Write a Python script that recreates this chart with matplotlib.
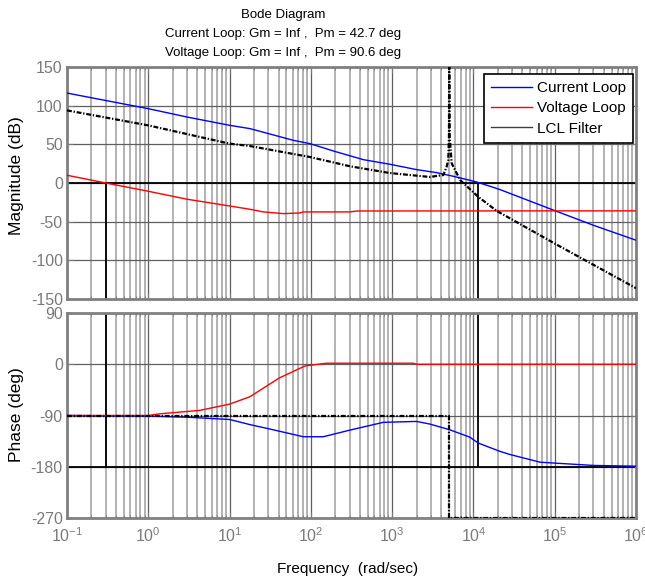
import matplotlib
matplotlib.use("Agg")
import matplotlib.pyplot as plt
from matplotlib import font_manager as fm
from matplotlib.lines import Line2D
from matplotlib.ticker import FixedLocator, NullFormatter, LogFormatterSciNotation

# ---------------- data ----------------
series_labels = ["Current Loop", "Voltage Loop", "LCL Filter"]
title_lines = ["Bode Diagram",
               "Current Loop: Gm = Inf ,  Pm = 42.7 deg",
               "Voltage Loop: Gm = Inf ,  Pm = 90.6 deg"]

cl_mag_f = [0.1, 1, 3, 10, 17.8, 60.8, 97.5, 189, 442, 940, 2000, 3520, 5650, 11000, 21200, 1e5, 3e5, 1e6]
cl_mag = [116.3, 96.1, 85.3, 74.6, 70.3, 55.2, 50.9, 41.4, 30.2, 24.2, 17.3, 13.4, 8.7, 1.3, -8.5, -35.7, -54.7, -74]

vl_mag_f = [0.1, 0.3, 1, 3, 10, 17.8, 26, 46, 74, 80, 303, 366, 1e6]
vl_mag = [10, 0, -10.7, -21, -29.7, -34, -37.4, -39.6, -38.7, -37.4, -37.4, -36.2, -36]

lcl_mag_f = [0.1, 1, 10, 17.8, 97.5, 303, 940, 2900, 4260, 4670, 4900, 5000, 5040, 5100, 5400, 6900, 11500, 19300, 1e5, 1e6]
lcl_mag = [93.9, 74.5, 50.9, 47.8, 33.6, 21.6, 12.9, 7.8, 10.3, 20.7, 29, 60, 175, 60, 25.5, 3.5, -18, -36, -78.3, -136]

cl_ph_f = [0.1, 1, 3, 10, 17.8, 31.4, 80.7, 142, 303, 778, 2000, 2900, 5100, 9000, 11500, 21200, 28000, 66000, 1e5, 3e5, 1e6]
cl_ph = [-90, -91, -93, -97, -106, -113.8, -127.3, -127.3, -115.6, -102, -100.4, -105, -115, -128, -138.5, -153, -158.4, -172, -173.6, -177.7, -179]

vl_ph_f = [0.1, 1, 1.39, 4.3, 10, 17.8, 41, 84.5, 155, 1800, 2000, 1e6]
vl_ph = [-90, -90, -87, -81, -70, -57, -24, -3, 1.8, 1.8, 0, 0]

lcl_ph_f = [0.1, 5040, 5040, 1e6]
lcl_ph = [-90, -90, -270, -270]

crossover_f = [0.3, 1.15e4]      # gain crossover frequencies (voltage, current)
freq_ticks = [1e-1, 1e0, 1e1, 1e2, 1e3, 1e4, 1e5, 1e6]
mag_ticks = [-150, -100, -50, 0, 50, 100, 150]
ph_ticks = [-270, -180, -90, 0, 90]

# ---------------- fonts ----------------
names = {f.name for f in fm.fontManager.ttflist}
base_font = "Liberation Sans" if "Liberation Sans" in names else "DejaVu Sans"
narrow = "Liberation Sans Narrow" in names
title_font = "Liberation Sans Narrow" if narrow else base_font
title_size = 11 if narrow else 9.5

plt.rcParams["font.family"] = [base_font, "DejaVu Sans"]
plt.rcParams["mathtext.fontset"] = "custom"
plt.rcParams["mathtext.rm"] = base_font
plt.rcParams["mathtext.it"] = base_font + ":italic"
plt.rcParams["mathtext.bf"] = base_font + ":bold"
plt.rcParams["axes.unicode_minus"] = False

W, H = 645, 581
fig = plt.figure(figsize=(W / 100, H / 100), dpi=100)

def box(l, t, r, b):
    return [l / W, 1 - b / H, (r - l) / W, (b - t) / H]

ax1 = fig.add_axes(box(67, 67, 636, 299))
ax2 = fig.add_axes(box(67, 313, 636, 518), sharex=ax1)

blue = "#0000ff"
red = "#ff0000"
spine_c = "#808080"
tick_c = "#7a7a7a"
lcl_style = (0, (2.2, 0.8, 0.6, 0.8))

minor_ticks = [m * d for d in freq_ticks[:-1] for m in range(2, 10)]

for ax in (ax1, ax2):
    ax.set_xscale("log")
    ax.set_xlim(0.1, 1e6)
    ax.xaxis.set_major_locator(FixedLocator(freq_ticks))
    ax.xaxis.set_minor_locator(FixedLocator(minor_ticks))
    ax.xaxis.set_minor_formatter(NullFormatter())
    ax.grid(True, which="major", color="#5f5f5f", linewidth=0.9)
    ax.grid(True, which="minor", axis="x", color="#a6a6a6", linewidth=1.2)
    ax.set_axisbelow(True)
    for s in ax.spines.values():
        s.set_color(spine_c)
        s.set_linewidth(2)
    ax.tick_params(which="both", direction="in", top=True, right=True,
                   colors=tick_c, labelsize=11.5, pad=3)
    ax.tick_params(which="major", length=4)
    ax.tick_params(which="minor", length=2)

# ---- magnitude ----
ax1.set_ylim(-150, 150)
ax1.yaxis.set_major_locator(FixedLocator(mag_ticks))
ax1.axhline(0, color="black", linewidth=1.3, zorder=2)
ax1.vlines(crossover_f, -150, 0, color="black", linewidth=1.3, zorder=2)
ax1.plot(cl_mag_f, cl_mag, color=blue, linewidth=1.0, zorder=3)
ax1.plot(vl_mag_f, vl_mag, color=red, linewidth=1.0, zorder=3)
ax1.plot(lcl_mag_f, lcl_mag, color="black", linewidth=1.6, linestyle=lcl_style, zorder=4)
ax1.tick_params(axis="x", which="both", labelbottom=False)

# ---- phase ----
ax2.set_ylim(-270, 90)
ax2.yaxis.set_major_locator(FixedLocator(ph_ticks))
ax2.axhline(-180, color="black", linewidth=1.3, zorder=2)
ax2.vlines(crossover_f, -180, 90, color="black", linewidth=1.3, zorder=2)
ax2.plot(cl_ph_f, cl_ph, color=blue, linewidth=1.0, zorder=3)
ax2.plot(vl_ph_f, vl_ph, color=red, linewidth=1.0, zorder=3)
ax2.plot(lcl_ph_f, lcl_ph, color="black", linewidth=1.6, linestyle=lcl_style, zorder=4)
ax2.xaxis.set_major_formatter(LogFormatterSciNotation())
ax2.tick_params(axis="x", which="major", pad=6)

# ---- legend ----
handles = [Line2D([], [], color=blue, linewidth=1.0),
           Line2D([], [], color=red, linewidth=1.0),
           Line2D([], [], color="#404040", linewidth=1.0)]
leg = ax1.legend(handles, series_labels, loc="upper right",
                 bbox_to_anchor=(0.9947, 0.9698), borderaxespad=0.0,
                 fontsize=11, handlelength=2.7, handletextpad=0.35,
                 labelspacing=0.42, borderpad=0.45, fancybox=False,
                 framealpha=1.0, edgecolor="black")
leg.get_frame().set_linewidth(1.2)
leg.set_zorder(10)

# ---- titles & labels ----
for txt, yb in zip(title_lines, [18.3, 37.3, 56.0]):
    fig.text(283 / W, 1 - yb / H, txt, ha="center", va="baseline",
             fontsize=title_size, family=[title_font, "DejaVu Sans"], color="black")

fig.text(348 / W, 1 - 573 / H, "Frequency  (rad/sec)", ha="center", va="baseline",
         fontsize=11, color="black")
fig.text(17 / W, 1 - 176 / H, "Magnitude (dB)", ha="center", va="center",
         rotation=90, fontsize=12.5, color="black")
fig.text(17 / W, 1 - 415 / H, "Phase (deg)", ha="center", va="center",
         rotation=90, fontsize=12.5, color="black")

fig.savefig("out.png", dpi=100, facecolor="white")
